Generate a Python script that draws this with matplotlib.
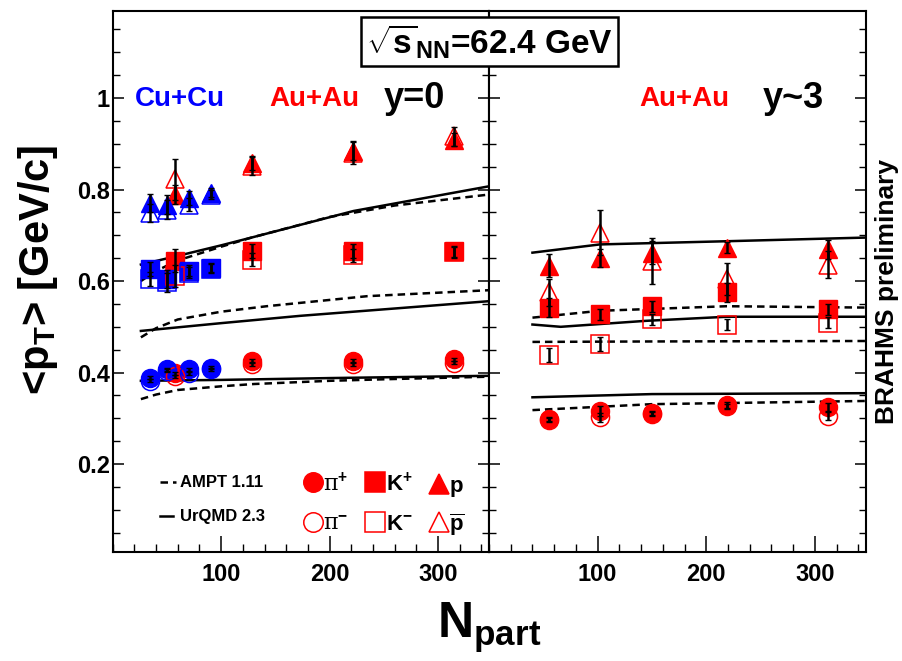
import matplotlib
matplotlib.use('Agg')
import matplotlib.pyplot as plt
from matplotlib.ticker import MultipleLocator

plt.rcParams['font.family'] = ['Liberation Sans', 'DejaVu Sans']
plt.rcParams['font.weight'] = 'bold'
plt.rcParams['mathtext.fontset'] = 'custom'
plt.rcParams['mathtext.rm'] = 'Liberation Sans:bold'
plt.rcParams['mathtext.it'] = 'Liberation Sans:bold'
plt.rcParams['mathtext.bf'] = 'Liberation Sans:bold'

RED = '#ff0000'
BLUE = '#0000ff'

# ---- y=0, Cu+Cu ----
cu_npart = [34, 50, 70, 91]
cu_pip = [0.389, 0.407, 0.407, 0.411]
cu_pim = [0.382, 0.404, 0.398, 0.407]
cu_kp = [0.626, 0.605, 0.622, 0.629]
cu_km = [0.604, 0.597, 0.618, 0.627]
cu_p = [0.771, 0.767, 0.782, 0.793]
cu_pbar = [0.749, 0.756, 0.767, 0.789]
cu_pi_err = [0.003, 0.003, 0.003, 0.003]
cu_k_err = [0.015, 0.02, 0.012, 0.01]
cu_p_err = [0.02, 0.02, 0.015, 0.01]

# ---- y=0, Au+Au ----
au0_npart = [57, 128, 222, 315]
au0_pip = [0.398, 0.426, 0.426, 0.429]
au0_pim = [0.392, 0.418, 0.418, 0.422]
au0_kp = [0.644, 0.665, 0.665, 0.665]
au0_km = [0.611, 0.647, 0.656, 0.663]
au0_p = [0.789, 0.858, 0.884, 0.909]
au0_pbar = [0.822, 0.851, 0.880, 0.916]
au0_pi_err = [0.003, 0.003, 0.003, 0.003]
au0_k_err = [0.025, 0.015, 0.015, 0.012]
au0_p_err = [0.02, 0.015, 0.02, 0.015]
au0_pbar_err = [0.045, 0.02, 0.025, 0.02]

# ---- y~3, Au+Au ----
au3_npart = [55, 102, 150, 219, 312]
au3_pip = [0.298, 0.316, 0.311, 0.329, 0.324]
au3_pim = [0.297, 0.302, 0.310, 0.326, 0.306]
au3_kp = [0.542, 0.527, 0.545, 0.575, 0.538]
au3_km = [0.438, 0.462, 0.516, 0.505, 0.509]
au3_p = [0.633, 0.651, 0.662, 0.673, 0.669]
au3_pbar = [0.575, 0.706, 0.644, 0.604, 0.636]
au3_pi_err = [0.004, 0.01, 0.004, 0.006, 0.01]
au3_kp_err = [0.02, 0.012, 0.012, 0.02, 0.012]
au3_km_err = [0.015, 0.015, 0.012, 0.012, 0.012]
au3_p_err = [0.025, 0.02, 0.025, 0.012, 0.02]
au3_pbar_err = [0.03, 0.05, 0.05, 0.035, 0.03]

# ---- model curves, y=0 ----
ampt0_pi_x = [26, 40, 60, 100, 130, 200, 260, 347]
ampt0_pi = [0.342, 0.352, 0.362, 0.370, 0.375, 0.382, 0.386, 0.391]
urqmd0_pi_x = [26, 100, 200, 347]
urqmd0_pi = [0.382, 0.384, 0.388, 0.393]
ampt0_k_x = [26, 40, 60, 100, 142, 235, 347]
ampt0_k = [0.477, 0.497, 0.516, 0.533, 0.545, 0.567, 0.580]
urqmd0_k_x = [26, 100, 173, 260, 347]
urqmd0_k = [0.491, 0.508, 0.524, 0.540, 0.556]
ampt0_p_x = [26, 40, 60, 100, 128, 200, 260, 347]
ampt0_p = [0.600, 0.622, 0.645, 0.675, 0.695, 0.740, 0.765, 0.789]
urqmd0_p_x = [26, 60, 100, 128, 222, 347]
urqmd0_p = [0.636, 0.655, 0.678, 0.695, 0.753, 0.807]

# ---- model curves, y~3 ----
urqmd3_p_x = [40, 102, 219, 347]
urqmd3_p = [0.662, 0.680, 0.687, 0.695]
ampt3_k1_x = [40, 102, 219, 347]
ampt3_k1 = [0.520, 0.535, 0.545, 0.542]
ampt3_k2_x = [40, 150, 347]
ampt3_k2 = [0.467, 0.468, 0.469]
urqmd3_k_x = [40, 66, 144, 219, 347]
urqmd3_k = [0.505, 0.500, 0.513, 0.522, 0.522]
urqmd3_pi_x = [40, 150, 347]
urqmd3_pi = [0.346, 0.353, 0.355]
ampt3_pi_x = [40, 150, 347]
ampt3_pi = [0.318, 0.331, 0.338]

W, H = 902, 661
fig = plt.figure(figsize=(W / 100, H / 100), dpi=100)
axL = fig.add_axes([112.7 / W, 1 - 552 / H, (489 - 112.7) / W, (552 - 11) / H])
axR = fig.add_axes([489 / W, 1 - 552 / H, (866 - 489) / W, (552 - 11) / H])

MS = 13
DASH = (0, (3.0, 2.0))


def curve(ax, x, y, dashed):
    ax.plot(x, y, color='black', lw=1.8, ls=DASH if dashed else '-', zorder=2)


def points(ax, x, y, err, marker, color, filled):
    ax.errorbar(x, y, yerr=err, fmt='none', ecolor='black', elinewidth=1.8,
                capsize=2, capthick=1.0, zorder=5)
    if filled:
        ax.plot(x, y, ls='none', marker=marker, ms=MS, mfc=color, mec=color, zorder=3)
    else:
        ax.plot(x, y, ls='none', marker=marker, ms=MS, mfc='none', mec=color, mew=1.1, zorder=4)


# left panel (y=0)
curve(axL, ampt0_pi_x, ampt0_pi, True)
curve(axL, urqmd0_pi_x, urqmd0_pi, False)
curve(axL, ampt0_k_x, ampt0_k, True)
curve(axL, urqmd0_k_x, urqmd0_k, False)
curve(axL, ampt0_p_x, ampt0_p, True)
curve(axL, urqmd0_p_x, urqmd0_p, False)

points(axL, au0_npart, au0_pip, au0_pi_err, 'o', RED, True)
points(axL, au0_npart, au0_pim, au0_pi_err, 'o', RED, False)
points(axL, au0_npart, au0_kp, au0_k_err, 's', RED, True)
points(axL, au0_npart, au0_km, au0_k_err, 's', RED, False)
points(axL, au0_npart, au0_p, au0_p_err, '^', RED, True)
points(axL, au0_npart, au0_pbar, au0_pbar_err, '^', RED, False)

points(axL, cu_npart, cu_pip, cu_pi_err, 'o', BLUE, True)
points(axL, cu_npart, cu_pim, cu_pi_err, 'o', BLUE, False)
points(axL, cu_npart, cu_kp, cu_k_err, 's', BLUE, True)
points(axL, cu_npart, cu_km, cu_k_err, 's', BLUE, False)
points(axL, cu_npart, cu_p, cu_p_err, '^', BLUE, True)
points(axL, cu_npart, cu_pbar, cu_p_err, '^', BLUE, False)

# right panel (y~3)
curve(axR, urqmd3_p_x, urqmd3_p, False)
curve(axR, ampt3_k1_x, ampt3_k1, True)
curve(axR, ampt3_k2_x, ampt3_k2, True)
curve(axR, urqmd3_k_x, urqmd3_k, False)
curve(axR, urqmd3_pi_x, urqmd3_pi, False)
curve(axR, ampt3_pi_x, ampt3_pi, True)

points(axR, au3_npart, au3_pip, au3_pi_err, 'o', RED, True)
points(axR, au3_npart, au3_pim, au3_pi_err, 'o', RED, False)
points(axR, au3_npart, au3_kp, au3_kp_err, 's', RED, True)
points(axR, au3_npart, au3_km, au3_km_err, 's', RED, False)
points(axR, au3_npart, au3_p, au3_p_err, '^', RED, True)
points(axR, au3_npart, au3_pbar, au3_pbar_err, '^', RED, False)

for ax in (axL, axR):
    ax.set_xlim(0, 347)
    ax.set_ylim(0.008, 1.19)
    ax.set_xticks([100, 200, 300])
    ax.xaxis.set_minor_locator(MultipleLocator(20))
    ax.set_yticks([0.2, 0.4, 0.6, 0.8, 1.0])
    ax.yaxis.set_minor_locator(MultipleLocator(0.05))
    ax.tick_params(axis='x', which='major', direction='in', length=11.5, width=1.1,
                   labelsize=17, pad=8, bottom=True, top=False)
    ax.tick_params(axis='x', which='minor', direction='in', length=5.8, width=1.0,
                   bottom=True, top=False)
    ax.tick_params(axis='y', which='major', direction='in', length=8, width=1.1,
                   labelsize=17, pad=2, left=True, right=True)
    ax.tick_params(axis='y', which='minor', direction='in', length=5, width=1.0,
                   left=True, right=True)
    for s in ax.spines.values():
        s.set_linewidth(1.5)

axL.set_yticklabels(['0.2', '0.4', '0.6', '0.8', '1'])
axR.set_yticklabels([])

# panel labels
axL.text(0.06, 0.838, 'Cu+Cu', color=BLUE, fontsize=20, transform=axL.transAxes, va='center')
axL.text(0.415, 0.838, 'Au+Au', color=RED, fontsize=20, transform=axL.transAxes, va='center')
axL.text(0.72, 0.838, 'y=0', color='black', fontsize=26, transform=axL.transAxes, va='center')
axR.text(0.40, 0.838, 'Au+Au', color=RED, fontsize=20, transform=axR.transAxes, va='center')
axR.text(0.725, 0.838, 'y~3', color='black', fontsize=26, transform=axR.transAxes, va='center')

# legend drawn by hand in left panel
axL.plot([0.125, 0.168], [0.129, 0.129], color='black', lw=1.8, ls=DASH, transform=axL.transAxes)
axL.text(0.178, 0.129, 'AMPT 1.11', fontsize=12, transform=axL.transAxes, va='center')
axL.plot([0.125, 0.16], [0.066, 0.066], color='black', lw=1.8, transform=axL.transAxes)
axL.text(0.178, 0.066, 'UrQMD 2.3', fontsize=12, transform=axL.transAxes, va='center')
leg_items = [('o', True, r'π$^{+}$', 0.532, 0.129), ('o', False, r'π$^{-}$', 0.532, 0.056),
             ('s', True, r'K$^{+}$', 0.697, 0.129), ('s', False, r'K$^{-}$', 0.697, 0.056),
             ('^', True, 'p', 0.866, 0.126), ('^', False, r'$\overline{\mathrm{p}}$', 0.866, 0.056)]
for mk, filled, lab, lx, ly in leg_items:
    axL.plot([lx], [ly], ls='none', marker=mk, ms=14, transform=axL.transAxes,
             mfc=RED if filled else 'none', mec=RED, mew=1.1, clip_on=False)
    is_pi = lab.startswith('π')
    axL.text(lx + 0.028, ly - 0.005, lab, fontsize=16, transform=axL.transAxes, va='center',
             family=['DejaVu Serif'] if is_pi else None,
             fontweight='normal' if is_pi else 'bold')

# energy box
fig.text(489.5 / W, 1 - 41.5 / H, r'$\sqrt{\mathrm{s}}_{\mathrm{NN}}$=62.4 GeV', fontsize=24,
         ha='center', va='center',
         bbox=dict(boxstyle='square,pad=0.15', fc='white', ec='black', lw=1.8))

fig.text(38 / W, 1 - 270 / H, r'<p$_{\mathrm{T}}$> [GeV/c]', fontsize=30, rotation=90,
         ha='center', va='center')
fig.text(489 / W, 1 - 628 / H, r'N$_{\mathrm{part}}$', fontsize=36, ha='center', va='center')
fig.text(887 / W, 1 - 292 / H, 'BRAHMS preliminary', fontsize=19, rotation=90,
         ha='center', va='center')

fig.savefig('out.png', dpi=100)
